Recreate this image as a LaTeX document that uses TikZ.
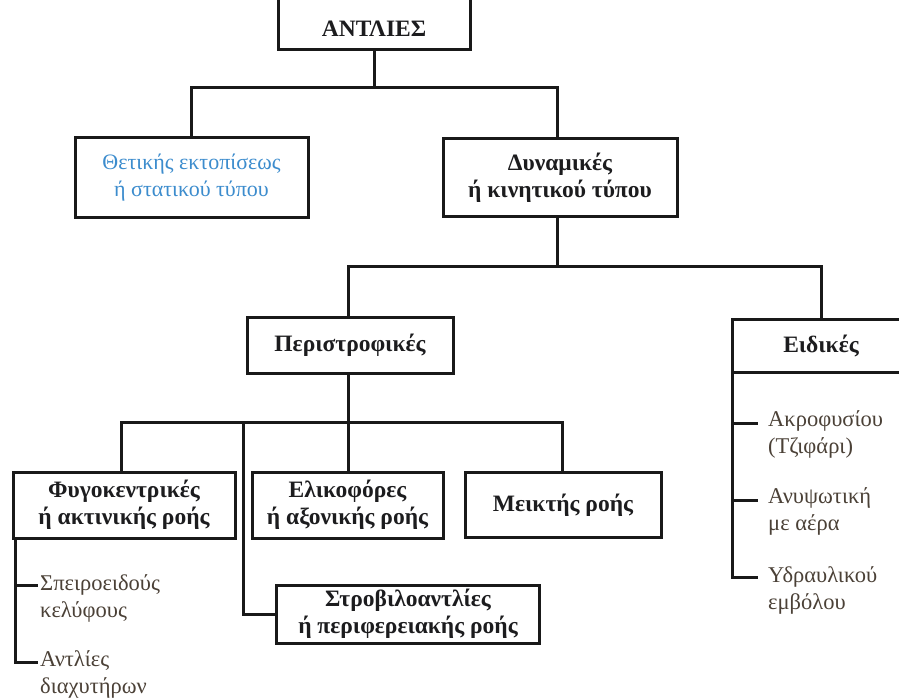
\documentclass[tikz,border=0pt]{standalone}
\usepackage{fontspec}
\setmainfont{Liberation Serif}
\definecolor{boxtext}{RGB}{28,28,30}
\definecolor{bluetext}{RGB}{60,140,205}
\definecolor{itemtext}{RGB}{75,65,55}
\definecolor{linecol}{RGB}{25,25,25}
\tikzset{
  box/.style={draw=linecol, line width=3pt, rectangle, inner sep=0pt, align=center,
    font=\fontsize{23.5}{27}\selectfont\bfseries, text=boxtext},
  item/.style={inner sep=0pt, align=left, anchor=west,
    font=\fontsize{22.5}{27}\selectfont, text=itemtext},
  conn/.style={draw=linecol, line width=3pt}
}
\begin{document}
\begin{tikzpicture}[x=1pt,y=-1pt]
\useasboundingbox (0,0) rectangle (899,700);
\clip (0,0) rectangle (899,700);
% boxes
\node[box, minimum width=192pt, minimum height=70pt] (ant) at (374,15) {\raisebox{-22pt}[0pt][0pt]{ΑΝΤΛΙΕΣ}};
\node[box, minimum width=233pt, minimum height=80pt, text=bluetext, font=\fontsize{22}{27}\selectfont] (thet) at (191.5,178) {Θετικής εκτοπίσεως\\ή στατικού τύπου};
\node[box, minimum width=234pt, minimum height=78pt] (dyn) at (560,178) {Δυναμικές\\ή κινητικού τύπου};
\node[box, minimum width=206pt, minimum height=55pt] (per) at (350,345.5) {Περιστροφικές};
\node[box, minimum width=178pt, minimum height=52pt] (eid) at (821,346) {Ειδικές};
\node[box, minimum width=222pt, minimum height=66pt] (fyg) at (124,505) {Φυγοκεντρικές\\ή ακτινικής ροής};
\node[box, minimum width=191pt, minimum height=66pt] (elik) at (347.5,505) {Ελικοφόρες\\ή αξονικής ροής};
\node[box, minimum width=196pt, minimum height=65pt] (meik) at (563,505) {Μεικτής ροής};
\node[box, minimum width=263pt, minimum height=58pt] (strov) at (408,614) {Στροβιλοαντλίες\\ή περιφερειακής ροής};
% items
\node[item] (s1) at (40,598.5) {Σπειροειδούς\\κελύφους};
\node[item] (s2) at (40,674) {Αντλίες\\διαχυτήρων};
\node[item] (e1) at (768,434) {Ακροφυσίου\\(Τζιφάρι)};
\node[item] (e2) at (768,511) {Ανυψωτική\\με αέρα};
\node[item] (e3) at (768,590) {Υδραυλικού\\εμβόλου};
% junction coordinates
\coordinate (j1) at (374,88);
\coordinate (j2) at (557,267);
\coordinate (j3) at (348,422);
\coordinate (t1) at (15,585);
\coordinate (t2) at (15,662);
\coordinate (r1) at (732,423);
\coordinate (r2) at (732,500);
\coordinate (r3) at (732,577);
% connectors
\draw[conn] (ant.south) -- (j1);
\draw[conn] (thet.north) |- (j1) -| (dyn.north -| 557,0);
\draw[conn] (dyn.south -| j2) -- (j2);
\draw[conn] (per.north -| j3) |- (j2) -| (eid.north);
\draw[conn] (per.south -| j3) -- (j3);
\draw[conn] (fyg.north -| 121,0) |- (j3) -| (meik.north -| 562,0);
\draw[conn] (j3) -- (elik.north -| j3);
\draw[conn] (243,422) |- (strov.west);
\draw[conn] (fyg.south -| t1) -- (t2) -- (t2 -| 38,0);
\draw[conn] (t1) -- (t1 -| 38,0);
\draw[conn] (eid.south -| r1) -- (r3) -- (r3 -| 758,0);
\draw[conn] (r1) -- (r1 -| 758,0);
\draw[conn] (r2) -- (r2 -| 758,0);
\end{tikzpicture}
\end{document}
